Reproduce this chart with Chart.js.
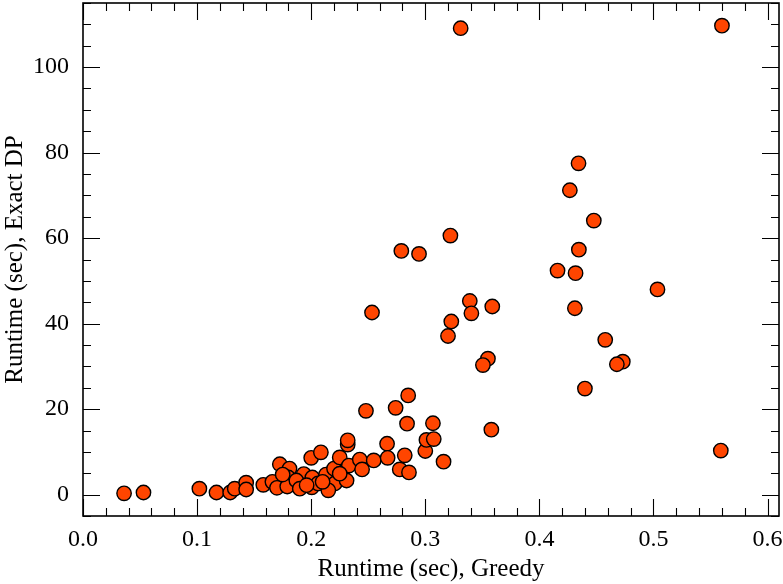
<!DOCTYPE html>
<html>
<head>
<meta charset="utf-8">
<script src="https://cdn.jsdelivr.net/npm/chart.js@4.4.0/dist/chart.umd.min.js"></script>
<style>
  body { margin: 0; background: #fff; }
  canvas { display: block; }
</style>
</head>
<body>
<canvas id="scatter" width="783" height="584"></canvas>
<script>
// runtime of the greedy heuristic (x) vs. the exact DP (y), seconds
var greedyTime = [
  0.036, 0.053, 0.102, 0.117, 0.129, 0.133, 0.143, 0.143, 0.158, 0.166,
  0.1725, 0.170, 0.181, 0.180, 0.179, 0.1935, 0.200, 0.201, 0.2085, 0.213,
  0.220, 0.225, 0.2005, 0.2207, 0.187, 0.206, 0.231, 0.232, 0.232, 0.233,
  0.2426, 0.2446, 0.248, 0.2548, 0.2665, 0.267, 0.274, 0.2776, 0.282, 0.285,
  0.284, 0.2857, 0.300, 0.301, 0.3067, 0.3074, 0.316, 0.2533, 0.279, 0.2945,
  0.322, 0.3228, 0.3199, 0.339, 0.3404, 0.3587, 0.3549, 0.3505, 0.3579, 0.331,
  0.560, 0.559, 0.4343, 0.4267, 0.4477, 0.4346, 0.4159, 0.4317, 0.5035, 0.4311,
  0.4577, 0.4731, 0.4679, 0.4399, 0.225, 0.175, 0.190, 0.215, 0.196, 0.210
];
var exactTime = [
  0.3, 0.5, 1.4, 0.5, 0.5, 1.4, 2.8, 1.2, 2.3, 3.0,
  7.1, 1.6, 6.1, 4.0, 1.9, 4.8, 8.6, 4.0, 9.9, 4.7,
  6.1, 8.7, 1.7, 2.6, 3.3, 2.6, 3.3, 11.7, 12.7, 6.8,
  8.2, 5.9, 19.6, 8.0, 11.9, 8.6, 20.3, 5.9, 9.2, 23.2,
  16.6, 5.2, 10.2, 12.8, 16.7, 13.0, 7.7, 42.6, 57.0, 56.3,
  60.6, 40.5, 37.1, 45.3, 42.4, 44.0, 31.8, 30.3, 15.2, 109.1,
  109.7, 10.3, 77.5, 71.2, 64.1, 57.3, 52.4, 51.8, 48.0, 43.6,
  36.2, 31.1, 30.5, 24.8, 4.9, 4.7, 1.4, 1.0, 2.2, 3.0
];
var xTicks = [0, 0.1, 0.2, 0.3, 0.4, 0.5, 0.6];
var yTicks = [0, 20, 40, 60, 80, 100];

var points = greedyTime.map(function(v, i) { return {x: v, y: exactTime[i]}; });

var serif = 'Liberation Serif';

// inward major/minor ticks on all four sides plus the frame
var frameTicks = {
  id: 'frameTicks',
  afterDraw: function(chart) {
    var ctx = chart.ctx, a = chart.chartArea;
    var x = chart.scales.x, y = chart.scales.y;
    ctx.save();
    ctx.strokeStyle = '#000';
    ctx.lineWidth = 1.1;
    ctx.beginPath();
    for (var i = 0; i <= 30; i++) {
      var v = i * 0.02;
      if (v > x.max) break;
      var len = (i % 5 === 0) ? 17 : 8;
      var px = Math.round(x.getPixelForValue(v)) + 0.5;
      ctx.moveTo(px, a.bottom); ctx.lineTo(px, a.bottom - len);
      ctx.moveTo(px, a.top); ctx.lineTo(px, a.top + len);
    }
    for (var j = -5; j <= 115; j += 5) {
      var lenY = (j % 20 === 0) ? 17 : 8;
      var py = Math.round(y.getPixelForValue(j)) + 0.5;
      ctx.moveTo(a.left, py); ctx.lineTo(a.left + lenY, py);
      ctx.moveTo(a.right, py); ctx.lineTo(a.right - lenY, py);
    }
    ctx.stroke();
    ctx.lineWidth = 1.6;
    ctx.strokeRect(a.left, a.top, a.right - a.left, a.bottom - a.top);
    ctx.restore();
  }
};

new Chart(document.getElementById('scatter'), {
  type: 'scatter',
  data: {
    datasets: [{
      data: points,
      backgroundColor: '#FF4500',
      borderColor: '#000',
      borderWidth: 1.4,
      pointRadius: 7.2
    }]
  },
  options: {
    responsive: false,
    animation: false,
    layout: { autoPadding: false, padding: { top: 3, right: 4, left: 0, bottom: 0 } },
    plugins: { legend: { display: false }, tooltip: { enabled: false } },
    scales: {
      x: {
        type: 'linear', min: 0, max: 0.61,
        grid: { display: false, drawTicks: false }, border: { display: false },
        afterBuildTicks: function(s) { s.ticks = xTicks.map(function(v) { return {value: v}; }); },
        afterFit: function(s) { s.height = 68; s.paddingLeft = 0; s.paddingRight = 0; },
        ticks: {
          padding: 9, color: '#000', font: { family: serif, size: 24 },
          callback: function(v) { return v.toFixed(1); }
        },
        title: {
          display: true, text: 'Runtime (sec), Greedy', color: '#000',
          font: { family: serif, size: 25 }, padding: { top: 0, bottom: 0 }
        }
      },
      y: {
        type: 'linear', min: -5, max: 115,
        grid: { display: false, drawTicks: false }, border: { display: false },
        afterBuildTicks: function(s) { s.ticks = yTicks.map(function(v) { return {value: v}; }); },
        afterFit: function(s) { s.width = 83; s.paddingTop = 0; s.paddingBottom = 0; },
        ticks: {
          padding: 14, color: '#000', font: { family: serif, size: 24 }
        },
        title: {
          display: true, text: 'Runtime (sec), Exact DP', color: '#000',
          font: { family: serif, size: 25 }, padding: { top: 0, bottom: 0 }
        }
      }
    }
  },
  plugins: [frameTicks]
});
</script>
</body>
</html>
